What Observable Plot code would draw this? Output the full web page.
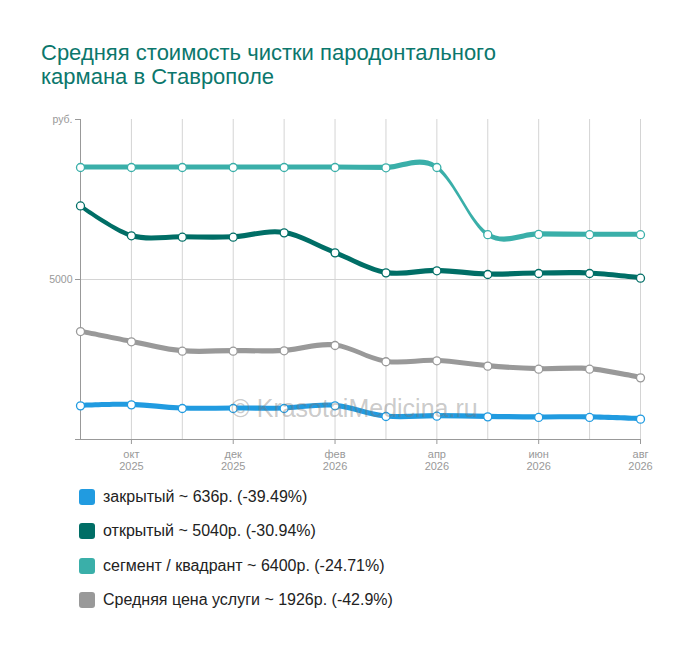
<!DOCTYPE html>
<html>
<head>
<meta charset="utf-8">
<script src="https://cdn.jsdelivr.net/npm/d3@7"></script>
<script src="https://cdn.jsdelivr.net/npm/@observablehq/plot@0.6"></script>
<style>
  body { margin: 0; background: #fff; font-family: "Liberation Sans", Arial, sans-serif; }
  #title { height: 100px; box-sizing: border-box; padding: 41px 0 0 41px; color: #0b776c; font-size: 22px; line-height: 24px; }
  #legend { padding: 1px 0 0 79px; }
  .item { display: flex; align-items: center; height: 34.3px; font-size: 16px; color: #222; }
  .sw { width: 16px; height: 16px; border-radius: 3px; margin-right: 8px; }
</style>
</head>
<body>
<div id="title">Средняя стоимость чистки пародонтального<br>кармана в Ставрополе</div>
<div id="chart"></div>
<div id="legend"></div>
<script>
const months = ["сен 2025","окт 2025","ноя 2025","дек 2025","янв 2026","фев 2026","мар 2026","апр 2026","май 2026","июн 2026","июл 2026","авг 2026"];
const labeledMonths = ["окт 2025","дек 2025","фев 2026","апр 2026","июн 2026","авг 2026"];
const yTicks = [0, 5000, 10000];
const yTickLabels = ["", "5000", "руб."];

const seriesNames = ["закрытый", "открытый", "сегмент / квадрант", "Средняя цена услуги"];
const seriesColors = ["#219be0", "#006e66", "#3aafa9", "#999999"];
const legendLabels = ["закрытый ~ 636р. (-39.49%)", "открытый ~ 5040р. (-30.94%)", "сегмент / квадрант ~ 6400р. (-24.71%)", "Средняя цена услуги ~ 1926р. (-42.9%)"];

const closedValues  = [1051, 1083, 969, 969, 969, 1052, 719, 729, 708, 690, 690, 636];
const openValues    = [7298, 6365, 6322, 6322, 6458, 5833, 5208, 5271, 5156, 5187, 5187, 5040];
const segmentValues = [8500, 8500, 8500, 8500, 8500, 8500, 8490, 8500, 6400, 6410, 6400, 6400];
const averageValues = [3373, 3052, 2760, 2760, 2771, 2937, 2430, 2460, 2292, 2198, 2198, 1926];

const allValues = [closedValues, openValues, segmentValues, averageValues];
const rows = [];
allValues.forEach((vals, si) => vals.forEach((v, i) => rows.push({series: seriesNames[si], month: months[i], value: v})));

const half = 80; // half band thickness in value units
const order = [3, 0, 1, 2];

const marks = [
  Plot.gridX(months, {stroke: "#d4d4d4", strokeOpacity: 1}),
  Plot.gridY([5000], {stroke: "#d4d4d4", strokeOpacity: 1}),
  Plot.ruleY([0], {stroke: "#999"}),
  Plot.ruleX([months[0]], {stroke: "#999"}),
  Plot.axisY({ticks: yTicks, tickFormat: d => yTickLabels[yTicks.indexOf(d)], tickSize: 5, stroke: "#999", fill: "#999", fontSize: 10.5, tickPadding: 3, label: null}),
  Plot.axisX({ticks: labeledMonths, tickFormat: d => d.replace(" ", "\n"), tickSize: 5, stroke: "#999", fill: "#999", fontSize: 11, tickPadding: 6, lineHeight: 1.02, label: null})
];
for (const si of order) {
  const data = rows.filter(r => r.series === seriesNames[si]);
  marks.push(Plot.areaY(data, {x: "month", y1: d => d.value - half, y2: d => d.value + half, curve: "cardinal", fill: seriesColors[si]}));
}
for (const si of order) {
  const data = rows.filter(r => r.series === seriesNames[si]);
  marks.push(Plot.dot(data, {x: "month", y: "value", r: 4, fill: "white", stroke: seriesColors[si], strokeWidth: 1.3}));
}
marks.push(Plot.text(["© KrasotaiMedicina.ru"], {frameAnchor: "bottom", dx: -6, dy: -31, lineAnchor: "middle", fontSize: 25, fill: "#777", fillOpacity: 0.4, fontFamily: "Liberation Sans, Arial, sans-serif"}));

const chart = Plot.plot({
  width: 700,
  height: 379,
  marginTop: 19,
  marginBottom: 40,
  marginLeft: 80,
  marginRight: 60,
  style: {fontFamily: "Liberation Sans, Arial, sans-serif", background: "white"},
  x: {type: "point", domain: months, padding: 0, round: false, label: null},
  y: {domain: [0, 10000], label: null},
  marks
});
document.getElementById("chart").appendChild(chart);

const legend = document.getElementById("legend");
seriesNames.forEach((n, i) => {
  const item = document.createElement("div");
  item.className = "item";
  const sw = document.createElement("div");
  sw.className = "sw";
  sw.style.background = seriesColors[i];
  const t = document.createElement("span");
  t.textContent = legendLabels[i];
  item.appendChild(sw);
  item.appendChild(t);
  legend.appendChild(item);
});
</script>
</body>
</html>
